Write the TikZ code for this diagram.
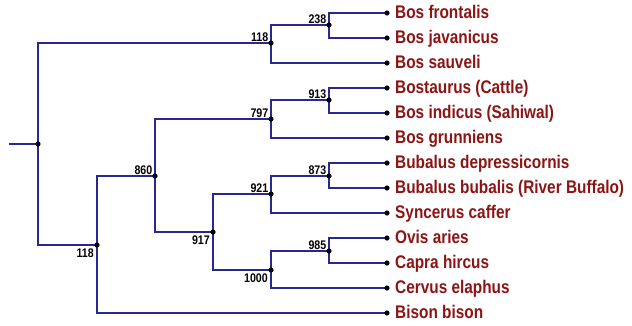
\documentclass[tikz,border=0pt]{standalone}
\usepackage{fontspec}
\newfontfamily\leaffont[FakeStretch=0.84]{Liberation Sans}
\newfontfamily\numfont[FakeStretch=0.85]{Liberation Sans}
\definecolor{branch}{RGB}{40,40,145}
\definecolor{taxon}{RGB}{140,20,20}
\tikzset{
  branchline/.style={draw=branch, line width=1.6bp},
  dotmark/.style={fill=black},
  leaflabel/.style={anchor=base west, inner sep=0pt, text=taxon, font=\leaffont\bfseries\fontsize{18.3bp}{20bp}\selectfont},
  bootabove/.style={anchor=base east, inner sep=0pt, font=\numfont\bfseries\fontsize{12.5bp}{14bp}\selectfont},
  bootbelow/.style={anchor=north east, inner sep=0pt, font=\numfont\bfseries\fontsize{12.5bp}{14bp}\selectfont}
}
\begin{document}
\begin{tikzpicture}[x=1bp,y=-1bp]
\useasboundingbox (0,0) rectangle (632,325);
% internal nodes
\coordinate (stub) at (9,144);
\coordinate (root) at (38,144);
\coordinate (a118) at (271,43);
\coordinate (a238) at (329,25);
\coordinate (b118) at (97,245);
\coordinate (n860) at (155,176);
\coordinate (n797) at (271,119);
\coordinate (n913) at (329,100);
\coordinate (n917) at (213,232);
\coordinate (n921) at (271,194);
\coordinate (n873) at (329,176);
\coordinate (n1000) at (271,270);
\coordinate (n985) at (329,251);
% leaves
\foreach \i/\y in {1/13,2/38,3/63,4/88,5/113,6/138,7/163,8/188,9/213,10/238,11/263,12/288,13/313}
  \coordinate (l\i) at (387,\y);
% branches
\draw[branchline] (stub) -- (root);
\draw[branchline] (root) |- (a118);
\draw[branchline] (root) |- (b118);
\draw[branchline] (a118) |- (a238);
\draw[branchline] (a118) |- (l3);
\draw[branchline] (a238) |- (l1);
\draw[branchline] (a238) |- (l2);
\draw[branchline] (b118) |- (n860);
\draw[branchline] (b118) |- (l13);
\draw[branchline] (n860) |- (n797);
\draw[branchline] (n860) |- (n917);
\draw[branchline] (n797) |- (n913);
\draw[branchline] (n797) |- (l6);
\draw[branchline] (n913) |- (l4);
\draw[branchline] (n913) |- (l5);
\draw[branchline] (n917) |- (n921);
\draw[branchline] (n917) |- (n1000);
\draw[branchline] (n921) |- (n873);
\draw[branchline] (n921) |- (l9);
\draw[branchline] (n873) |- (l7);
\draw[branchline] (n873) |- (l8);
\draw[branchline] (n1000) |- (n985);
\draw[branchline] (n1000) |- (l12);
\draw[branchline] (n985) |- (l10);
\draw[branchline] (n985) |- (l11);
% dots
\foreach \c in {root,a118,a238,b118,n860,n797,n913,n917,n921,n873,n1000,n985,l1,l2,l3,l4,l5,l6,l7,l8,l9,l10,l11,l12,l13}
  \fill[dotmark] (\c) circle (2.6bp);
% bootstrap values
\node[bootabove] (v1) at ([xshift=-2.5bp,yshift=2bp]a118) {118};
\node[bootabove] (v2) at ([xshift=-2.5bp,yshift=2bp]a238) {238};
\node[bootabove] (v3) at ([xshift=-2.5bp,yshift=2bp]n797) {797};
\node[bootabove] (v4) at ([xshift=-2.5bp,yshift=2bp]n913) {913};
\node[bootabove] (v5) at ([xshift=-2.5bp,yshift=2bp]n860) {860};
\node[bootabove] (v6) at ([xshift=-2.5bp,yshift=2bp]n921) {921};
\node[bootabove] (v7) at ([xshift=-2.5bp,yshift=2bp]n873) {873};
\node[bootabove] (v8) at ([xshift=-2.5bp,yshift=2bp]n985) {985};
\node[bootbelow] (v9) at ([xshift=-3bp,yshift=-4bp]n917) {917};
\node[bootbelow] (v10) at ([xshift=-3bp,yshift=-4bp]b118) {118};
\node[bootbelow] (v11) at ([xshift=-3bp,yshift=-4bp]n1000) {1000};
% taxa
\node[leaflabel] (t1) at ([xshift=8bp,yshift=-5.8bp]l1) {Bos frontalis};
\node[leaflabel] (t2) at ([xshift=8bp,yshift=-5.8bp]l2) {Bos javanicus};
\node[leaflabel] (t3) at ([xshift=8bp,yshift=-5.8bp]l3) {Bos sauveli};
\node[leaflabel] (t4) at ([xshift=8bp,yshift=-5.8bp]l4) {Bostaurus (Cattle)};
\node[leaflabel] (t5) at ([xshift=8bp,yshift=-5.8bp]l5) {Bos indicus (Sahiwal)};
\node[leaflabel] (t6) at ([xshift=8bp,yshift=-5.8bp]l6) {Bos grunniens};
\node[leaflabel] (t7) at ([xshift=8bp,yshift=-5.8bp]l7) {Bubalus depressicornis};
\node[leaflabel] (t8) at ([xshift=8bp,yshift=-5.8bp]l8) {Bubalus bubalis (River Buffalo)};
\node[leaflabel] (t9) at ([xshift=8bp,yshift=-5.8bp]l9) {Syncerus caffer};
\node[leaflabel] (t10) at ([xshift=8bp,yshift=-5.8bp]l10) {Ovis aries};
\node[leaflabel] (t11) at ([xshift=8bp,yshift=-5.8bp]l11) {Capra hircus};
\node[leaflabel] (t12) at ([xshift=8bp,yshift=-5.8bp]l12) {Cervus elaphus};
\node[leaflabel] (t13) at ([xshift=8bp,yshift=-5.8bp]l13) {Bison bison};
\end{tikzpicture}
\end{document}
